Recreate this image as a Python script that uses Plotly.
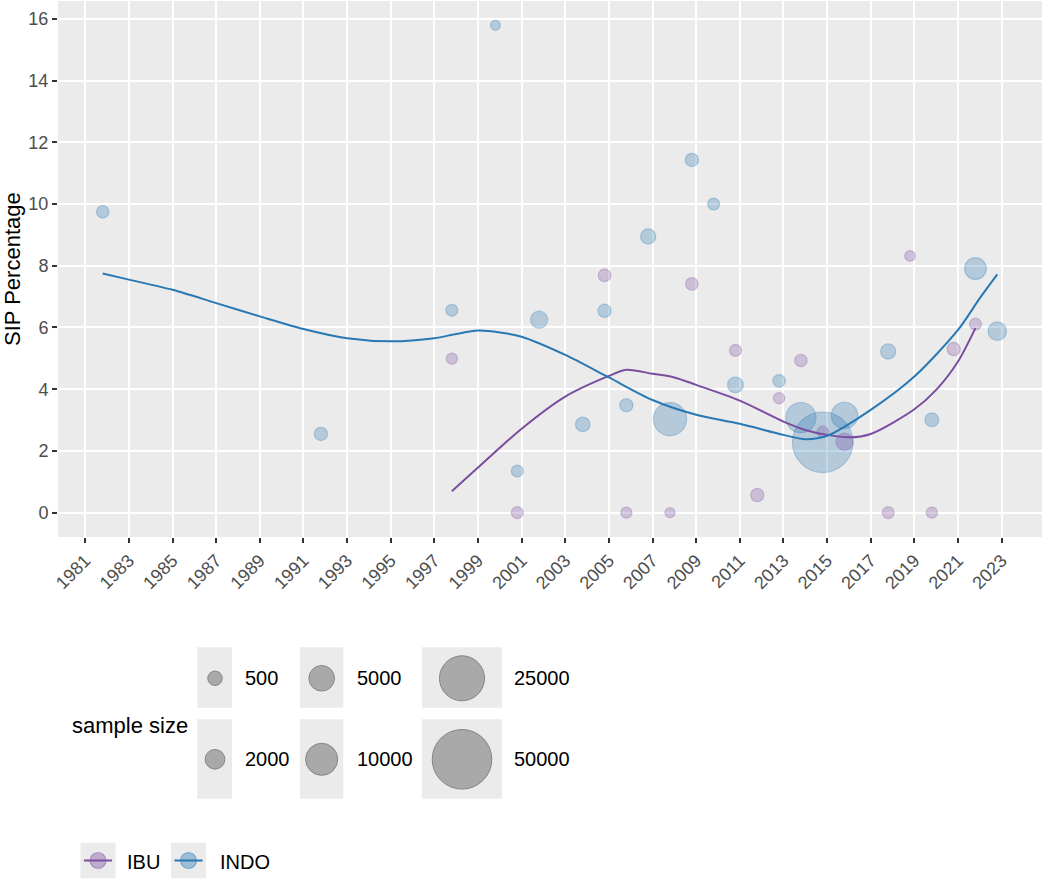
import numpy as np
import plotly.graph_objects as go

# ---------------- data ----------------
ibu_year = [1997.8, 2000.8, 2004.8, 2005.8, 2007.8, 2008.8, 2010.8, 2011.8, 2012.8,
            2013.8, 2014.8, 2015.8, 2017.8, 2018.8, 2019.8, 2020.8, 2021.8]
ibu_sip = [4.99, 0.0, 7.69, 0.0, 0.0, 7.41, 5.26, 0.57, 3.71,
           4.93, 2.62, 2.30, 0.0, 8.32, 0.0, 5.30, 6.11]
ibu_n = [130, 170, 230, 130, 100, 230, 170, 310, 130,
         230, 130, 1140, 170, 110, 130, 310, 170]

indo_year = [1981.8, 1991.8, 1997.8, 1999.8, 2000.8, 2001.8, 2003.8, 2004.8, 2005.8,
             2006.8, 2007.8, 2008.8, 2009.8, 2010.8, 2012.8, 2013.8, 2014.8, 2015.8,
             2017.8, 2019.8, 2021.8, 2022.8]
indo_sip = [9.75, 2.55, 6.56, 15.79, 1.35, 6.25, 2.86, 6.54, 3.48,
            8.95, 3.03, 11.43, 10.00, 4.14, 4.27, 3.08, 2.28, 3.15,
            5.22, 3.01, 7.91, 5.88]
indo_n = [230, 310, 170, 100, 170, 1140, 510, 310, 310,
          650, 11000, 310, 170, 780, 230, 8400, 52000, 5500,
          650, 400, 2870, 1550]

# smoothed trend curves
indo_smooth_x = [1981.8, 1983, 1985, 1987, 1989, 1991, 1993, 1995, 1997, 1998, 1999, 2000,
                 2001, 2003, 2005, 2007, 2009, 2011, 2013, 2014, 2015, 2017, 2019, 2021,
                 2022, 2022.8]
indo_smooth_y = [7.75, 7.55, 7.22, 6.79, 6.36, 5.95, 5.65, 5.55, 5.65, 5.79, 5.90, 5.84,
                 5.70, 5.11, 4.38, 3.65, 3.17, 2.88, 2.52, 2.38, 2.49, 3.33, 4.41, 5.92,
                 6.95, 7.72]
ibu_smooth_x = [1997.8, 1999, 2001, 2003, 2005, 2005.8, 2007, 2008, 2009, 2011, 2013,
                2014, 2015, 2016, 2017, 2019, 2020, 2021, 2021.8]
ibu_smooth_y = [0.69, 1.46, 2.72, 3.76, 4.43, 4.63, 4.50, 4.38, 4.14, 3.63, 2.95,
                2.68, 2.52, 2.44, 2.55, 3.35, 3.98, 4.90, 5.98]

size_breaks = [500, 2000, 5000, 10000, 25000, 50000]
x_ticks = list(range(1981, 2024, 2))
y_ticks = list(range(0, 17, 2))
groups = ["IBU", "INDO"]

# ---------------- style ----------------
W, H = 1056, 880
FONT = "Liberation Sans, Arial, Helvetica, sans-serif"
PURPLE = "#7A4E9F"
BLUE = "#2878B4"
PURPLE_FILL = "rgba(122,78,159,0.40)"
BLUE_FILL = "rgba(40,120,180,0.40)"
PURPLE_EDGE = "rgba(122,78,159,0.45)"
BLUE_EDGE = "rgba(40,120,180,0.45)"
PANEL = "#EBEBEB"

N_MIN = min(ibu_n + indo_n)
D_MIN, K = 10.0, 0.222


def diam(n):
    n = np.asarray(n, dtype=float)
    return D_MIN + K * np.sqrt(np.maximum(n - N_MIN, 0))


all_x = ibu_year + indo_year
all_y = ibu_sip + indo_sip
xspan = max(all_x) - min(all_x)
yspan = max(all_y) - min(all_y)
xr = [min(all_x) - 0.05 * xspan, max(all_x) + 0.05 * xspan]
yr = [min(all_y) - 0.05 * yspan, max(all_y) + 0.05 * yspan]

PX_L, PX_R, PX_T, PX_B = 58, 1042, 1, 537

fig = go.Figure()

# points
fig.add_trace(go.Scatter(
    x=indo_year, y=indo_sip, mode="markers", showlegend=False,
    marker=dict(size=diam(indo_n), color=BLUE_FILL, line=dict(color=BLUE_EDGE, width=1.2)),
    xaxis="x", yaxis="y"))
fig.add_trace(go.Scatter(
    x=ibu_year, y=ibu_sip, mode="markers", showlegend=False,
    marker=dict(size=diam(ibu_n), color=PURPLE_FILL, line=dict(color=PURPLE_EDGE, width=1.2)),
    xaxis="x", yaxis="y"))
# smooth lines
fig.add_trace(go.Scatter(
    x=ibu_smooth_x, y=ibu_smooth_y, mode="lines", showlegend=False,
    line=dict(color=PURPLE, width=2, shape="spline", smoothing=0.8), xaxis="x", yaxis="y"))
fig.add_trace(go.Scatter(
    x=indo_smooth_x, y=indo_smooth_y, mode="lines", showlegend=False,
    line=dict(color=BLUE, width=2, shape="spline", smoothing=0.8), xaxis="x", yaxis="y"))

# ---------------- manual legends on pixel axes ----------------
LEG_TOP = 580.8
shapes = [dict(type="rect", xref="x domain", yref="y domain", x0=0, x1=1, y0=0, y1=1,
               fillcolor=PANEL, line=dict(width=0), layer="below")]
annotations = []

# size legend
col_x = [215, 321.7, 462]
row_y = [678.3, 759.3]
col_box = [(197.3, 232), (300, 343.3), (422, 502)]
row_box = [(647.3, 707.7), (719.3, 798.7)]
label_x = [243.3, 354.7, 512.3]
sx, sy = [], []
for i, b in enumerate(size_breaks):
    c, r = i // 2, i % 2
    sx.append(col_x[c])
    sy.append(row_y[r])
    shapes.append(dict(type="rect", xref="x2", yref="y2",
                       x0=col_box[c][0], x1=col_box[c][1], y0=row_box[r][0], y1=row_box[r][1],
                       fillcolor=PANEL, line=dict(width=0), layer="below"))
    annotations.append(dict(xref="x2", yref="y2", x=label_x[c], y=row_y[r], text=str(b),
                            showarrow=False, xanchor="left", yanchor="middle",
                            font=dict(family=FONT, size=20, color="black")))
fig.add_trace(go.Scatter(
    x=sx, y=sy, mode="markers", showlegend=False, hoverinfo="skip",
    marker=dict(size=diam(size_breaks), color="#8E8E8E", line=dict(color="#5A5A5A", width=1)),
    xaxis="x2", yaxis="y2"))
annotations.append(dict(xref="x2", yref="y2", x=70, y=725, text="sample size", showarrow=False,
                        xanchor="left", yanchor="middle",
                        font=dict(family=FONT, size=22, color="black")))

# colour legend
key_cx = [98, 188.5]
key_lbl_x = [125, 217.7]
key_cy = 860.5
for g, cx, lx, lc, fc, ec in zip(groups, key_cx, key_lbl_x, [PURPLE, BLUE],
                                 [PURPLE_FILL, BLUE_FILL], [PURPLE_EDGE, BLUE_EDGE]):
    shapes.append(dict(type="rect", xref="x2", yref="y2", x0=cx - 17.5, x1=cx + 17.5,
                       y0=key_cy - 17.8, y1=key_cy + 17.8, fillcolor=PANEL,
                       line=dict(width=0), layer="below"))
    fig.add_trace(go.Scatter(x=[cx], y=[key_cy], mode="markers", showlegend=False,
                             hoverinfo="skip",
                             marker=dict(size=16, color=fc, line=dict(color=ec, width=1.2)),
                             xaxis="x2", yaxis="y2"))
    fig.add_trace(go.Scatter(x=[cx - 14, cx + 14], y=[key_cy, key_cy], mode="lines",
                             showlegend=False, hoverinfo="skip",
                             line=dict(color=lc, width=2), xaxis="x2", yaxis="y2"))
    annotations.append(dict(xref="x2", yref="y2", x=lx, y=key_cy + 1, text=g, showarrow=False,
                            xanchor="left", yanchor="middle",
                            font=dict(family=FONT, size=20, color="black")))

# y-axis title
annotations.append(dict(xref="paper", yref="paper", x=12 / W, y=1 - ((PX_T + PX_B) / 2) / H,
                        text="SIP Percentage", textangle=-90, showarrow=False,
                        xanchor="center", yanchor="middle",
                        font=dict(family=FONT, size=22, color="black")))

axis_common = dict(showline=False, zeroline=False, showgrid=True, gridcolor="white",
                   gridwidth=2, ticks="outside", ticklen=5, tickwidth=1.6,
                   tickcolor="#333333",
                   tickfont=dict(family=FONT, size=18, color="#4D4D4D"))

fig.update_layout(
    width=W, height=H,
    margin=dict(l=0, r=0, t=0, b=0, autoexpand=False),
    paper_bgcolor="white", plot_bgcolor="white",
    showlegend=False,
    hovermode=False,
    font=dict(family=FONT),
    xaxis=dict(domain=[PX_L / W, PX_R / W], range=xr, tickmode="array",
               tickvals=x_ticks, ticktext=[str(t) for t in x_ticks], tickangle=-45,
               anchor="y", **axis_common),
    yaxis=dict(domain=[1 - PX_B / H, 1 - PX_T / H], range=yr, tickmode="array",
               tickvals=y_ticks, ticktext=[str(t) for t in y_ticks],
               anchor="x", **axis_common),
    xaxis2=dict(domain=[0, 1], range=[0, W], visible=False, showgrid=False,
                zeroline=False, anchor="y2", fixedrange=True),
    yaxis2=dict(domain=[0, (H - LEG_TOP) / H], range=[H, LEG_TOP], visible=False,
                showgrid=False, zeroline=False, anchor="x2", fixedrange=True),
    shapes=shapes,
    annotations=annotations,
)

fig.write_html("out.html", config={"displayModeBar": False},
               post_script="document.body.style.margin='0px';")
